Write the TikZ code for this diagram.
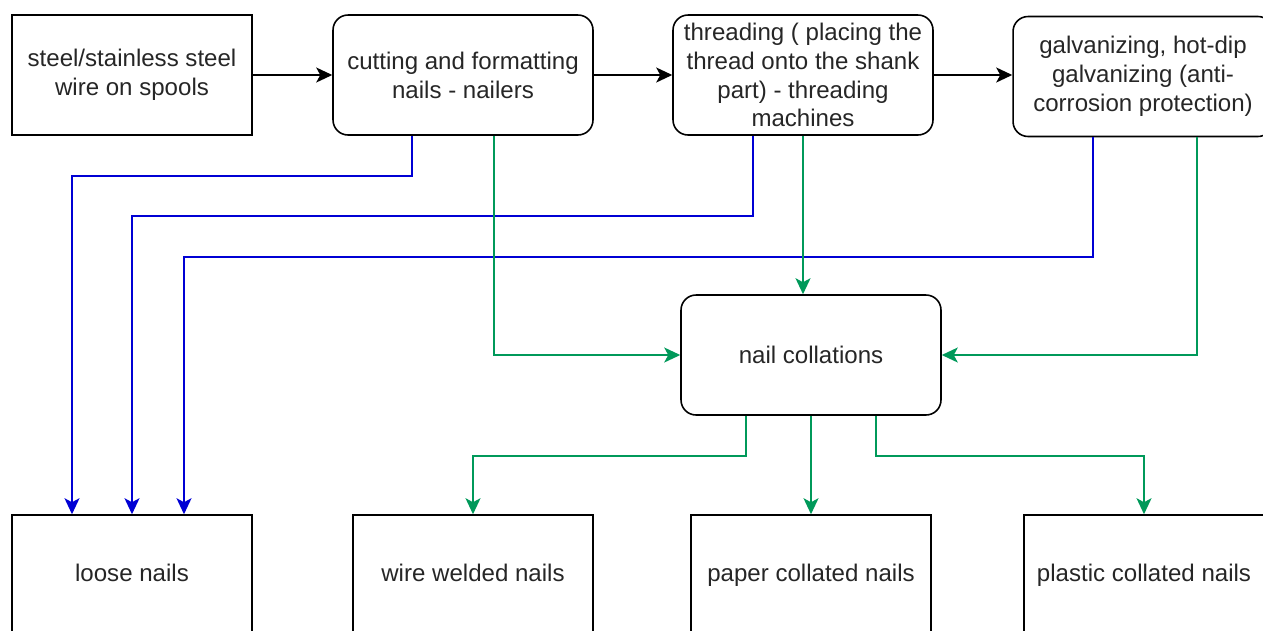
\documentclass[tikz,border=0pt]{standalone}
\usepackage{fontspec}
\setmainfont{Liberation Sans}
\usetikzlibrary{shapes,calc,arrows.meta}
\definecolor{flowblue}{HTML}{0000D4}
\definecolor{flowgreen}{HTML}{00995A}
\tikzset{
  x=0.02cm, y=-0.02cm,
  boxnode/.style = {align=center, inner sep=2pt, text centered, text=black!85, draw=black, line width=0.9pt, minimum height=2.4cm, font=\fontsize{13.7}{16.4}\selectfont},
  box_n/.style = {boxnode, rectangle, minimum width=4.8cm},
  box_l/.style = {box_n, text height=1.75ex, text depth=0.25ex},
  box_r/.style = {boxnode, rectangle, rounded corners=0.3cm, minimum width=5.2cm},
  line_k/.style = {draw=black, line width=1pt, -{Stealth[length=0.32cm, width=0.3cm, inset=0.08cm]}},
  line_b/.style = {line_k, draw=flowblue},
  line_g/.style = {line_k, draw=flowgreen}
}
\begin{document}
\begin{tikzpicture}
	\useasboundingbox (0,0) rectangle (1263,630);
	\clip (0,0) rectangle (1263,630);
	% top row
	\node [box_n] (wire_in) at (132,75) {steel/stainless steel\\wire on spools};
	\node [box_r] (cut) at (463,75) {cutting and formatting\\nails - nailers};
	\node [box_r] (thr) at (803,75) {threading ( placing the\\thread onto the shank\\part) - threading\\machines};
	\node [box_r] (galv) at (1143,76.5) {galvanizing, hot-dip\\galvanizing (anti-\\corrosion protection)};
	% middle
	\node [box_r] (coll) at (811,355) {nail collations};
	% bottom row
	\node [box_l] (loose) at (132,575) {loose nails};
	\node [box_l] (welded) at (473,575) {wire welded nails};
	\node [box_l] (paper) at (811,575) {paper collated nails};
	\node [box_l] (plastic) at (1144,575) {plastic collated nails};

	\draw [line_k] (wire_in) -- (cut);
	\draw [line_k] (cut) -- (thr);
	\draw [line_k] (thr) -- (galv.west |- thr);

	\draw [line_b] ($(cut.south)+(-51,0)$) -- ++(0,40) -| ($(loose.north)+(-60,0)$);
	\draw [line_b] ($(thr.south)+(-50,0)$) -- ++(0,80) -| (loose.north);
	\draw [line_b] ($(galv.south)+(-50,0)$) -- ++(0,120) -| ($(loose.north)+(52,0)$);

	\draw [line_g] ($(cut.south)+(31,0)$) |- (coll.west);
	\draw [line_g] (thr.south) -- (thr.south |- coll.north);
	\draw [line_g] ($(galv.south)+(54,0)$) |- (coll.east);

	\draw [line_g] ($(coll.south)+(-65,0)$) -- ++(0,40) -| (welded.north);
	\draw [line_g] (coll.south) -- (paper.north);
	\draw [line_g] ($(coll.south)+(65,0)$) -- ++(0,40) -| (plastic.north);
\end{tikzpicture}
\end{document}
